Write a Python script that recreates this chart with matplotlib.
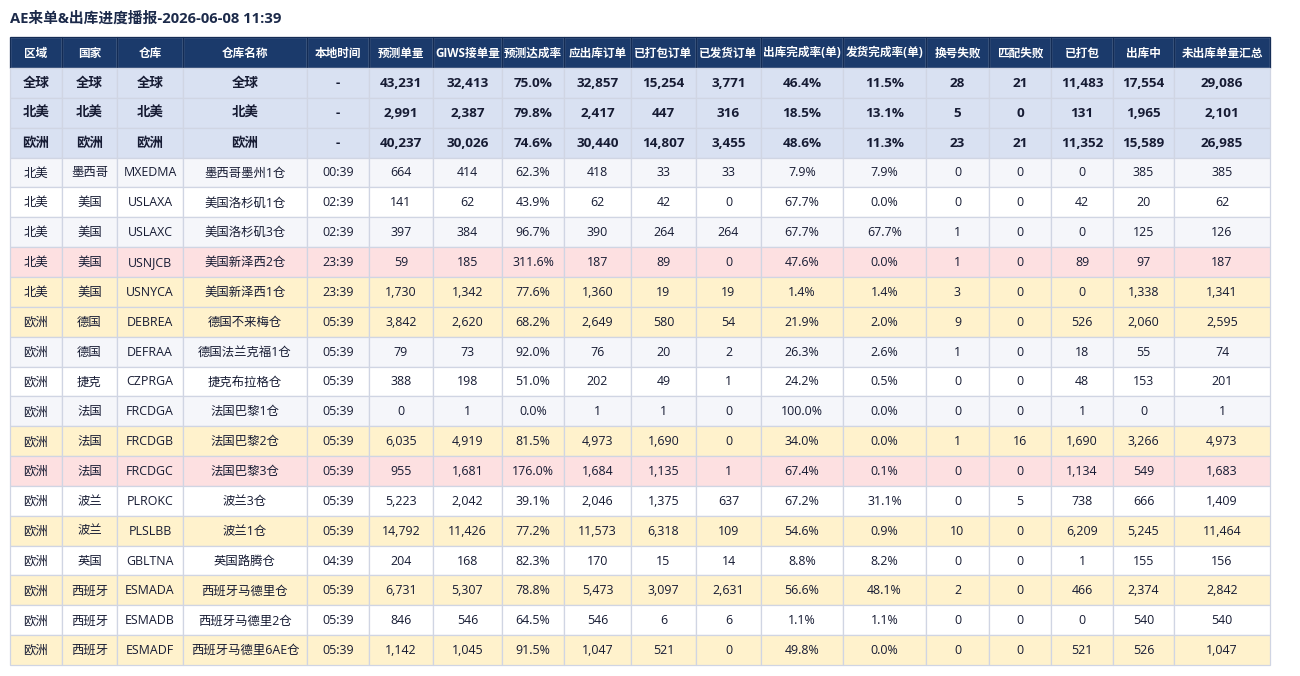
import matplotlib.pyplot as plt
from matplotlib.patches import Rectangle

plt.rcParams['font.family'] = ['Open Sans', 'Noto Sans CJK SC', 'DejaVu Sans']

title = "AE来单&出库进度播报-2026-06-08 11:39"

headers = ["区域", "国家", "仓库", "仓库名称", "本地时间", "预测单量", "GIWS接单量", "预测达成率",
           "应出库订单", "已打包订单", "已发货订单", "出库完成率(单)", "发货完成率(单)", "换号失败",
           "匹配失败", "已打包", "出库中", "未出库单量汇总"]

# summary rows (bold)
summary_rows = [
    ["全球", "全球", "全球", "全球", "-", "43,231", "32,413", "75.0%", "32,857", "15,254", "3,771", "46.4%", "11.5%", "28", "21", "11,483", "17,554", "29,086"],
    ["北美", "北美", "北美", "北美", "-", "2,991", "2,387", "79.8%", "2,417", "447", "316", "18.5%", "13.1%", "5", "0", "131", "1,965", "2,101"],
    ["欧洲", "欧洲", "欧洲", "欧洲", "-", "40,237", "30,026", "74.6%", "30,440", "14,807", "3,455", "48.6%", "11.3%", "23", "21", "11,352", "15,589", "26,985"],
]

# warehouse rows
detail_rows = [
    ["北美", "墨西哥", "MXEDMA", "墨西哥墨州1仓", "00:39", "664", "414", "62.3%", "418", "33", "33", "7.9%", "7.9%", "0", "0", "0", "385", "385"],
    ["北美", "美国", "USLAXA", "美国洛杉矶1仓", "02:39", "141", "62", "43.9%", "62", "42", "0", "67.7%", "0.0%", "0", "0", "42", "20", "62"],
    ["北美", "美国", "USLAXC", "美国洛杉矶3仓", "02:39", "397", "384", "96.7%", "390", "264", "264", "67.7%", "67.7%", "1", "0", "0", "125", "126"],
    ["北美", "美国", "USNJCB", "美国新泽西2仓", "23:39", "59", "185", "311.6%", "187", "89", "0", "47.6%", "0.0%", "1", "0", "89", "97", "187"],
    ["北美", "美国", "USNYCA", "美国新泽西1仓", "23:39", "1,730", "1,342", "77.6%", "1,360", "19", "19", "1.4%", "1.4%", "3", "0", "0", "1,338", "1,341"],
    ["欧洲", "德国", "DEBREA", "德国不来梅仓", "05:39", "3,842", "2,620", "68.2%", "2,649", "580", "54", "21.9%", "2.0%", "9", "0", "526", "2,060", "2,595"],
    ["欧洲", "德国", "DEFRAA", "德国法兰克福1仓", "05:39", "79", "73", "92.0%", "76", "20", "2", "26.3%", "2.6%", "1", "0", "18", "55", "74"],
    ["欧洲", "捷克", "CZPRGA", "捷克布拉格仓", "05:39", "388", "198", "51.0%", "202", "49", "1", "24.2%", "0.5%", "0", "0", "48", "153", "201"],
    ["欧洲", "法国", "FRCDGA", "法国巴黎1仓", "05:39", "0", "1", "0.0%", "1", "1", "0", "100.0%", "0.0%", "0", "0", "1", "0", "1"],
    ["欧洲", "法国", "FRCDGB", "法国巴黎2仓", "05:39", "6,035", "4,919", "81.5%", "4,973", "1,690", "0", "34.0%", "0.0%", "1", "16", "1,690", "3,266", "4,973"],
    ["欧洲", "法国", "FRCDGC", "法国巴黎3仓", "05:39", "955", "1,681", "176.0%", "1,684", "1,135", "1", "67.4%", "0.1%", "0", "0", "1,134", "549", "1,683"],
    ["欧洲", "波兰", "PLROKC", "波兰3仓", "05:39", "5,223", "2,042", "39.1%", "2,046", "1,375", "637", "67.2%", "31.1%", "0", "5", "738", "666", "1,409"],
    ["欧洲", "波兰", "PLSLBB", "波兰1仓", "05:39", "14,792", "11,426", "77.2%", "11,573", "6,318", "109", "54.6%", "0.9%", "10", "0", "6,209", "5,245", "11,464"],
    ["欧洲", "英国", "GBLTNA", "英国路腾仓", "04:39", "204", "168", "82.3%", "170", "15", "14", "8.8%", "8.2%", "0", "0", "1", "155", "156"],
    ["欧洲", "西班牙", "ESMADA", "西班牙马德里仓", "05:39", "6,731", "5,307", "78.8%", "5,473", "3,097", "2,631", "56.6%", "48.1%", "2", "0", "466", "2,374", "2,842"],
    ["欧洲", "西班牙", "ESMADB", "西班牙马德里2仓", "05:39", "846", "546", "64.5%", "546", "6", "6", "1.1%", "1.1%", "0", "0", "0", "540", "540"],
    ["欧洲", "西班牙", "ESMADF", "西班牙马德里6AE仓", "05:39", "1,142", "1,045", "91.5%", "1,047", "521", "0", "49.8%", "0.0%", "0", "0", "521", "526", "1,047"],
]

# row highlight: g = grey, w = white, p = pink, y = yellow
row_status = ["g", "w", "g", "p", "y", "y", "g", "w", "g", "y", "p", "w", "y", "w", "y", "w", "y"]

# layout (pixels)
col_edges = [10, 62, 117, 183, 307, 369, 433, 502, 564, 631, 696, 761, 843, 926, 989, 1051, 1113, 1174, 1270]
header_top, header_h = 37, 31
row_h = 29.85

colors = {"g": "#f5f6fa", "w": "#ffffff", "p": "#fde0e1", "y": "#fff2cc"}
header_bg = "#1b3a6b"
summary_bg = "#d9e1f2"
grid_col = "#d0d5e3"
text_col = "#161b33"

fig = plt.figure(figsize=(13, 6.76), dpi=100)
ax = fig.add_axes([0, 0, 1, 1])
ax.set_xlim(0, 1300)
ax.set_ylim(676, 0)
ax.axis("off")

ax.text(10, 18, title, fontsize=10.6, fontweight="bold", color="#1c2a4a", va="center", ha="left")


def draw_row(y, h, cells, bg, color, weight, size):
    for i, val in enumerate(cells):
        x0, x1 = col_edges[i], col_edges[i + 1]
        ax.add_patch(Rectangle((x0, y), x1 - x0, h, facecolor=bg, edgecolor=grid_col, linewidth=0.9))
        ax.text((x0 + x1) / 2, y + h / 2 + 0.5, val, ha="center", va="center",
                fontsize=size, fontweight=weight, color=color)


# header
draw_row(header_top, header_h, headers, header_bg, "white", "bold", 8.4)
for i in range(len(headers)):
    ax.add_patch(Rectangle((col_edges[i], header_top), col_edges[i + 1] - col_edges[i], header_h,
                           facecolor="none", edgecolor="#142c55", linewidth=0.9))

y = header_top + header_h
for r in summary_rows:
    draw_row(y, row_h, r, summary_bg, text_col, "bold", 9.7)
    y += row_h

for r, s in zip(detail_rows, row_status):
    draw_row(y, row_h, r, colors[s], text_col, "normal", 8.9)
    y += row_h

fig.savefig("out.png", dpi=100)
